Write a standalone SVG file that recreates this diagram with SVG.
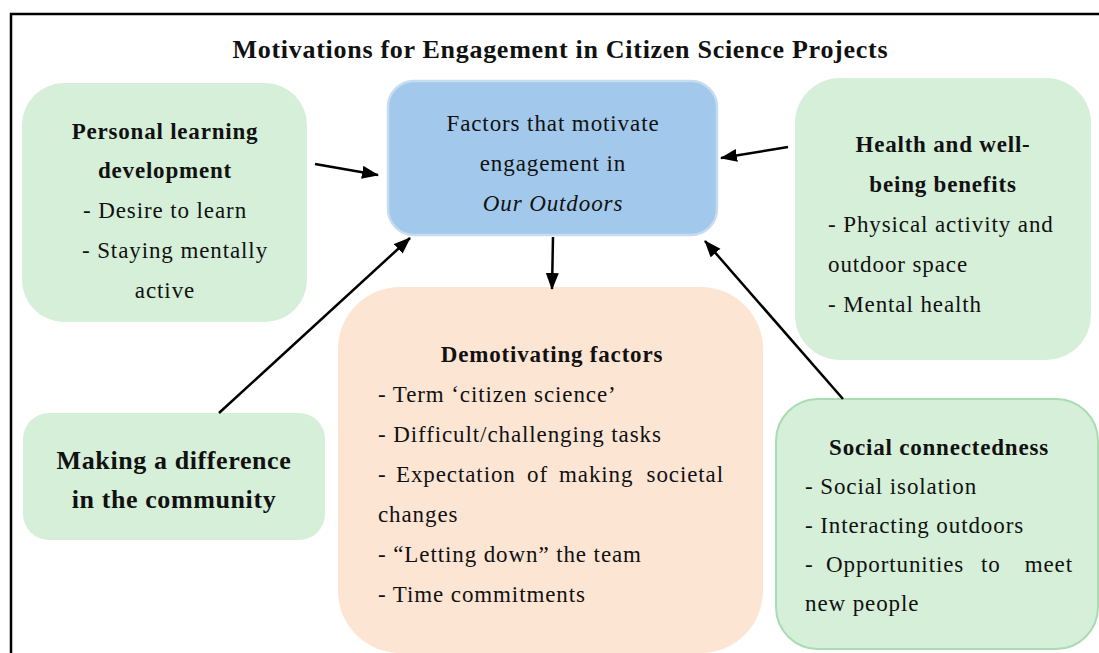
<svg xmlns="http://www.w3.org/2000/svg" width="1099" height="653" viewBox="0 0 1099 653">
<style>
text{font-family:"Liberation Serif","Times New Roman",serif;fill:#111;}
.t{font-size:23px;letter-spacing:0.9px;}
.b{font-size:23px;font-weight:bold;letter-spacing:0.8px;}
.c{text-anchor:middle;}
.green{fill:#d6efd9;}
.conn line{stroke:#000;stroke-width:2.5;marker-end:url(#ah);}
</style>
<defs>
<marker id="ah" markerUnits="userSpaceOnUse" markerWidth="18" markerHeight="14" refX="16" refY="6.5" orient="auto">
<path d="M0,0 L17,6.5 L0,13 z" fill="#000"/>
</marker>
</defs>
<rect x="0" y="0" width="1099" height="653" fill="#fff"/>
<rect x="11" y="14" width="1120" height="700" fill="none" stroke="#000" stroke-width="2.5"/>
<text x="560" y="58" class="c" font-size="26" font-weight="bold" textLength="655" lengthAdjust="spacing">Motivations for Engagement in Citizen Science Projects</text>

<g id="personal">
<rect x="22" y="83" width="285" height="239" rx="42" class="green"/>
<text x="165" y="139" class="b c">Personal learning</text>
<text x="165" y="178" class="b c">development</text>
<text x="165" y="218" class="t c">- Desire to learn</text>
<text x="175" y="258" class="t c">- Staying mentally</text>
<text x="165" y="298" class="t c">active</text>
</g>

<g id="center">
<rect x="388" y="81" width="329" height="154" rx="26" fill="#a2c8eb" stroke="#c6dcf1" stroke-width="2.5"/>
<text x="553" y="131" class="t c">Factors that motivate</text>
<text x="553" y="171" class="t c">engagement in</text>
<text x="553" y="211" class="t c" font-style="italic">Our Outdoors</text>
</g>

<g id="health">
<rect x="795" y="78" width="296" height="282" rx="45" class="green"/>
<text x="943" y="152" class="b c">Health and well-</text>
<text x="943" y="192" class="b c">being benefits</text>
<text x="828" y="232" class="t">- Physical activity and</text>
<text x="828" y="272" class="t">outdoor space</text>
<text x="828" y="312" class="t">- Mental health</text>
</g>

<g id="difference">
<rect x="23" y="413" width="302" height="127" rx="26" class="green"/>
<text x="174" y="469" class="c" font-size="26" font-weight="bold" letter-spacing="0.6">Making a difference</text>
<text x="174" y="508" class="c" font-size="26" font-weight="bold" letter-spacing="0.6">in the community</text>
</g>

<g id="demotivating">
<rect x="338" y="287" width="425" height="366" rx="62" fill="#fde5d4"/>
<text x="552" y="362" class="b c">Demotivating factors</text>
<text x="378" y="402" class="t">- Term ‘citizen science’</text>
<text x="378" y="442" class="t">- Difficult/challenging tasks</text>
<text x="378" y="482" class="t">-</text>
<text x="396" y="482" class="t">Expectation</text>
<text x="527" y="482" class="t">of</text>
<text x="559" y="482" class="t">making</text>
<text x="724" y="482" class="t" text-anchor="end">societal</text>
<text x="378" y="522" class="t">changes</text>
<text x="378" y="562" class="t">- “Letting down” the team</text>
<text x="378" y="602" class="t">- Time commitments</text>
</g>

<g id="social">
<rect x="776" y="399" width="322" height="250" rx="42" class="green" stroke="#a9dcb1" stroke-width="2"/>
<text x="939" y="455" class="b c">Social connectedness</text>
<text x="805" y="494" class="t">- Social isolation</text>
<text x="805" y="533" class="t">- Interacting outdoors</text>
<text x="805" y="572" class="t">-</text>
<text x="826" y="572" class="t">Opportunities</text>
<text x="981" y="572" class="t">to</text>
<text x="1073" y="572" class="t" text-anchor="end">meet</text>
<text x="805" y="611" class="t">new people</text>
</g>

<g id="connectors" class="conn">
<line x1="315" y1="164" x2="378" y2="175"/>
<line x1="788" y1="147" x2="721" y2="158"/>
<line x1="553" y1="237" x2="552" y2="289"/>
<line x1="219" y1="413" x2="410" y2="238"/>
<line x1="843" y1="399" x2="705" y2="241"/>
</g>
</svg>
